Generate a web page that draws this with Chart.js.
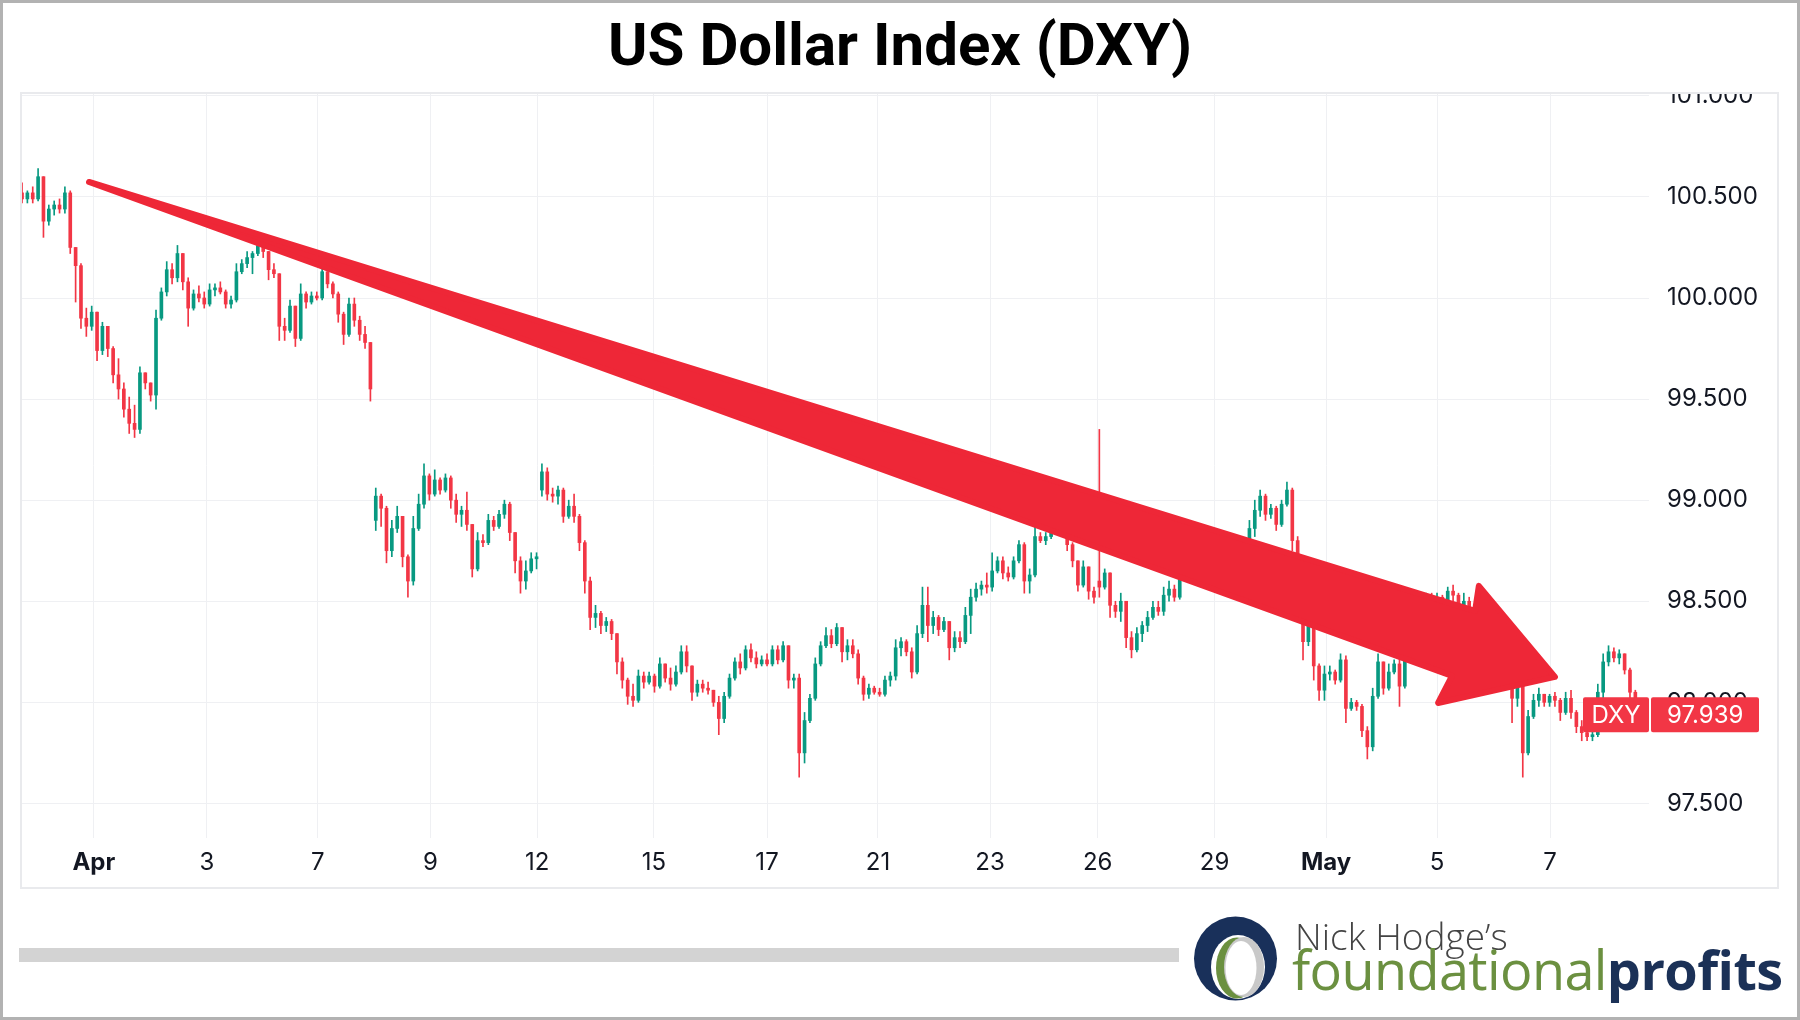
<!DOCTYPE html>
<html>
<head>
<meta charset="utf-8">
<title>US Dollar Index (DXY)</title>
<script src="https://cdn.jsdelivr.net/npm/chart.js@4.4.1/dist/chart.umd.min.js"></script>
<style>
  html, body { margin: 0; padding: 0; background: #fff; }
  #page { position: relative; width: 1800px; height: 1020px; overflow: hidden; background: #fff; }
  #chart { position: absolute; left: 0; top: 0; }
  #title { position: absolute; left: 0; top: 15px; width: 1800px; text-align: center;
           font: 700 60px Roboto, sans-serif; line-height: 60px; color: #000; }
  #scroll { position: absolute; left: 19px; top: 948px; width: 1160px; height: 14px; background: #d3d3d3; }
  #logo-icon { position: absolute; left: 1190px; top: 912px; }
  #logo-top { position: absolute; left: 1295px; top: 917px; font: 300 37px "Open Sans", sans-serif;
              line-height: 37px; color: #444; white-space: nowrap; }
  #logo-main { position: absolute; left: 1292px; top: 942px; font: 400 54px "Open Sans", sans-serif;
               line-height: 54px; color: #6b9040; white-space: nowrap; letter-spacing: -0.6px; }
  #logo-main b { font-weight: 700; color: #1b3157; }
  #border { position: absolute; left: 0; top: 0; width: 1800px; height: 1020px; box-sizing: border-box;
            border: 3px solid #b2b2b2; pointer-events: none; }
</style>
</head>
<body>
<div id="page">
  <canvas id="chart" width="1800" height="1020"></canvas>
  <div id="title">US Dollar Index (DXY)</div>
  <div id="scroll"></div>
  <svg id="logo-icon" width="92" height="92" viewBox="1190 912 92 92">
    <ellipse cx="1235.5" cy="958.5" rx="41.5" ry="42" fill="#19305a"/>
    <ellipse cx="1238" cy="967" rx="27" ry="32" fill="#fff"/>
    <ellipse cx="1237" cy="968" rx="21" ry="30.5" fill="#6b9040"/>
    <ellipse cx="1244" cy="967" rx="20" ry="30" fill="#c9c9c9"/>
    <ellipse cx="1241" cy="968" rx="15.5" ry="27" fill="#fff"/>
  </svg>
  <div id="logo-top">Nick Hodge’s</div>
  <div id="logo-main">foundational<b>profits</b></div>
  <div id="border"></div>
</div>

<script>
// x-axis labels and where they sit (in candle index units)
const tickLabels = ["Apr", "3", "7", "9", "12", "15", "17", "21", "23", "26", "29", "May", "5", "7"];
const tickAt = [13.4, 34.5, 55.2, 76.2, 96.1, 117.9, 139.0, 159.7, 180.6, 200.7, 222.5, 243.3, 264.0, 285.1];

// candles
const opens = [
  100.52,100.49,100.52,100.49,100.60,100.38,100.44,100.46,100.44,100.52,
  100.25,100.16,99.90,99.86,99.93,99.74,99.86,99.75,99.62,99.55,
  99.45,99.38,99.35,99.63,99.58,99.52,99.90,100.03,100.14,100.10,
  100.22,100.08,99.95,100.02,100.00,99.97,100.04,100.05,100.03,99.97,
  99.99,100.13,100.17,100.20,100.22,100.26,100.23,100.14,100.12,99.86,
  99.84,99.96,99.80,100.02,99.98,100.01,100.00,100.13,100.07,100.02,
  99.92,99.82,99.97,99.89,99.82,99.78,98.90,99.02,98.96,98.75,
  98.86,98.92,98.72,98.60,98.86,98.98,99.12,99.03,99.10,99.05,
  99.11,99.00,98.93,98.95,98.88,98.66,98.80,98.79,98.90,98.87,
  98.93,98.98,98.84,98.70,98.60,98.65,98.71,99.05,99.14,99.03,
  99.02,99.05,98.92,98.97,98.92,98.79,98.60,98.42,98.44,98.38,
  98.40,98.34,98.20,98.11,98.03,98.01,98.13,98.10,98.13,98.08,
  98.19,98.12,98.09,98.15,98.25,98.18,98.05,98.09,98.07,98.06,
  98.00,97.92,98.03,98.12,98.20,98.17,98.26,98.22,98.19,98.21,
  98.19,98.26,98.21,98.28,98.11,98.12,97.75,97.91,98.02,98.19,
  98.28,98.33,98.29,98.37,98.25,98.28,98.24,98.12,98.04,98.07,
  98.05,98.04,98.11,98.13,98.27,98.30,98.25,98.15,98.34,98.48,
  98.38,98.42,98.36,98.40,98.27,98.32,98.30,98.43,98.52,98.56,
  98.58,98.57,98.65,98.70,98.64,98.62,98.70,98.78,98.60,98.63,
  98.82,98.80,98.82,98.87,98.89,98.86,98.78,98.70,98.58,98.67,
  98.55,98.60,98.57,98.64,98.48,98.45,98.50,98.32,98.26,98.34,
  98.38,98.42,98.47,98.45,98.53,98.56,98.52,98.70,98.74,98.84,
  98.72,98.64,98.66,98.60,98.62,98.65,98.73,98.68,98.74,98.70,
  98.86,98.95,99.02,98.93,98.96,98.88,98.98,99.05,98.80,98.62,
  98.30,98.47,98.18,98.06,98.14,98.15,98.11,98.21,97.97,98.00,
  97.98,97.86,97.78,98.03,98.20,98.07,98.15,98.19,98.08,98.28,
  98.42,98.50,98.47,98.52,98.49,98.52,98.50,98.55,98.53,98.46,
  98.50,98.47,98.38,98.42,98.47,98.48,98.42,98.30,98.25,98.02,
  98.10,97.75,97.93,98.01,98.04,98.00,98.03,98.01,97.95,98.02,
  97.95,97.88,97.85,97.83,97.84,98.05,98.20,98.25,98.22,98.24,
  98.16,98.05
];
const highs = [
  100.57,100.53,100.55,100.64,100.60,100.46,100.48,100.49,100.55,100.53,
  100.25,100.17,99.95,99.96,99.93,99.88,99.86,99.76,99.70,99.58,
  99.51,99.47,99.66,99.63,99.58,99.94,100.05,100.18,100.17,100.26,
  100.22,100.10,100.04,100.06,100.03,100.07,100.07,100.08,100.04,100.01,
  100.17,100.19,100.23,100.23,100.29,100.28,100.23,100.17,100.12,99.90,
  99.99,99.96,100.07,100.03,100.03,100.03,100.15,100.13,100.08,100.03,
  99.93,100.00,100.00,99.91,99.86,99.78,99.06,99.03,98.97,98.90,
  98.97,98.92,98.73,98.92,99.03,99.18,99.13,99.15,99.11,99.13,
  99.12,99.03,98.97,99.04,98.88,98.84,98.83,98.93,98.92,98.95,
  99.00,98.99,98.84,98.72,98.70,98.74,98.74,99.18,99.16,99.06,
  99.07,99.06,99.00,99.03,98.93,98.80,98.62,98.48,98.45,98.42,
  98.41,98.34,98.22,98.12,98.09,98.16,98.15,98.15,98.14,98.22,
  98.19,98.17,98.18,98.28,98.28,98.18,98.11,98.11,98.10,98.06,
  98.03,98.05,98.14,98.22,98.24,98.28,98.29,98.25,98.23,98.24,
  98.28,98.28,98.30,98.28,98.14,98.14,97.95,98.04,98.22,98.30,
  98.37,98.36,98.39,98.37,98.31,98.31,98.26,98.13,98.09,98.08,
  98.07,98.13,98.15,98.31,98.32,98.31,98.27,98.38,98.57,98.57,
  98.45,98.43,98.42,98.40,98.35,98.35,98.47,98.56,98.59,98.60,
  98.64,98.74,98.72,98.72,98.67,98.72,98.80,98.79,98.66,98.87,
  98.84,98.84,98.90,98.91,98.89,98.86,98.79,98.70,98.70,98.67,
  98.57,99.35,98.66,98.64,98.50,98.54,98.50,98.35,98.37,98.40,
  98.45,98.50,98.50,98.57,98.60,98.58,98.72,98.76,98.87,98.84,
  98.72,98.68,98.68,98.64,98.67,98.76,98.76,98.76,98.77,98.90,
  99.00,99.05,99.03,98.98,98.97,99.00,99.09,99.06,98.82,98.63,
  98.52,98.48,98.19,98.18,98.18,98.16,98.24,98.23,98.02,98.01,
  97.99,97.88,98.07,98.24,98.20,98.19,98.21,98.27,98.31,98.47,
  98.54,98.54,98.54,98.54,98.54,98.53,98.57,98.58,98.54,98.54,
  98.52,98.47,98.44,98.50,98.50,98.49,98.43,98.33,98.26,98.14,
  98.10,97.96,98.04,98.07,98.04,98.04,98.05,98.02,98.05,98.06,
  97.96,97.91,97.89,97.86,98.09,98.24,98.28,98.27,98.26,98.24,
  98.17,98.06
];
const lows = [
  100.47,100.47,100.47,100.48,100.30,100.36,100.41,100.42,100.42,100.22,
  99.98,99.85,99.81,99.84,99.69,99.72,99.71,99.58,99.50,99.41,
  99.33,99.31,99.33,99.55,99.49,99.45,99.89,100.01,100.07,100.08,
  100.04,99.86,99.94,99.98,99.95,99.96,100.01,100.02,99.95,99.95,
  99.98,100.12,100.15,100.12,100.21,100.20,100.09,100.10,99.79,99.79,
  99.83,99.76,99.79,99.95,99.97,99.99,99.99,100.05,100.00,99.88,
  99.77,99.81,99.86,99.79,99.75,99.49,98.85,98.87,98.69,98.72,
  98.84,98.67,98.52,98.58,98.85,98.96,99.00,99.02,99.03,99.04,
  98.96,98.89,98.87,98.85,98.62,98.65,98.77,98.78,98.85,98.86,
  98.91,98.80,98.64,98.54,98.56,98.64,98.66,99.02,99.00,98.99,
  98.98,98.89,98.91,98.89,98.75,98.54,98.36,98.37,98.34,98.35,
  98.31,98.14,98.07,97.99,97.98,98.00,98.07,98.09,98.05,98.07,
  98.10,98.06,98.08,98.14,98.15,98.01,98.03,98.05,98.04,97.98,
  97.84,97.90,98.02,98.11,98.14,98.16,98.20,98.17,98.18,98.18,
  98.18,98.19,98.20,98.07,98.07,97.63,97.70,97.90,98.01,98.18,
  98.27,98.27,98.28,98.20,98.21,98.22,98.09,98.01,98.02,98.04,
  98.03,98.03,98.08,98.11,98.23,98.23,98.12,98.14,98.32,98.30,
  98.34,98.33,98.35,98.21,98.25,98.27,98.29,98.34,98.50,98.53,
  98.54,98.55,98.64,98.61,98.60,98.61,98.69,98.54,98.54,98.62,
  98.79,98.78,98.81,98.84,98.84,98.75,98.67,98.55,98.57,98.51,
  98.49,98.52,98.56,98.42,98.42,98.40,98.27,98.22,98.25,98.30,
  98.35,98.41,98.43,98.43,98.50,98.50,98.51,98.69,98.73,98.67,
  98.60,98.61,98.57,98.57,98.60,98.64,98.64,98.67,98.67,98.69,
  98.82,98.92,98.90,98.91,98.85,98.87,98.97,98.75,98.60,98.21,
  98.28,98.11,98.01,98.01,98.11,98.09,98.10,97.90,97.96,97.96,
  97.83,97.72,97.76,98.02,98.04,98.06,98.14,97.98,98.07,98.24,
  98.40,98.44,98.44,98.47,98.46,98.47,98.47,98.50,98.42,98.43,
  98.45,98.34,98.34,98.41,98.46,98.38,98.24,98.20,97.90,97.98,
  97.63,97.74,97.92,97.98,97.98,97.98,97.98,97.91,97.94,97.92,
  97.85,97.81,97.81,97.81,97.83,98.02,98.18,98.20,98.19,98.14,
  98.02,97.93
];
const closes = [
  100.49,100.52,100.49,100.60,100.38,100.44,100.46,100.44,100.52,100.25,
  100.16,99.90,99.86,99.93,99.74,99.86,99.75,99.62,99.55,99.45,
  99.38,99.35,99.63,99.58,99.52,99.90,100.03,100.14,100.10,100.22,
  100.08,99.95,100.02,100.00,99.97,100.04,100.05,100.03,99.97,99.99,
  100.13,100.17,100.20,100.22,100.26,100.23,100.14,100.12,99.86,99.84,
  99.96,99.80,100.02,99.98,100.01,100.00,100.13,100.07,100.02,99.92,
  99.82,99.97,99.89,99.82,99.78,99.55,99.02,98.96,98.75,98.86,
  98.92,98.72,98.60,98.86,98.98,99.12,99.03,99.10,99.05,99.11,
  99.00,98.93,98.95,98.88,98.66,98.80,98.79,98.90,98.87,98.93,
  98.98,98.84,98.70,98.60,98.65,98.71,98.72,99.14,99.03,99.02,
  99.05,98.92,98.97,98.92,98.79,98.60,98.42,98.44,98.38,98.40,
  98.34,98.20,98.11,98.03,98.01,98.13,98.10,98.13,98.08,98.19,
  98.12,98.09,98.15,98.25,98.18,98.05,98.09,98.07,98.06,98.00,
  97.92,98.03,98.12,98.20,98.17,98.26,98.22,98.19,98.21,98.19,
  98.26,98.21,98.28,98.11,98.12,97.75,97.91,98.02,98.19,98.28,
  98.33,98.29,98.37,98.25,98.28,98.24,98.12,98.04,98.07,98.05,
  98.04,98.11,98.13,98.27,98.30,98.25,98.15,98.34,98.48,98.38,
  98.42,98.36,98.40,98.27,98.32,98.30,98.43,98.52,98.56,98.58,
  98.57,98.65,98.70,98.64,98.62,98.70,98.78,98.60,98.63,98.82,
  98.80,98.82,98.87,98.89,98.86,98.78,98.70,98.58,98.67,98.55,
  98.52,98.57,98.64,98.48,98.45,98.50,98.32,98.26,98.34,98.38,
  98.42,98.47,98.45,98.53,98.56,98.52,98.70,98.74,98.84,98.72,
  98.64,98.66,98.60,98.62,98.65,98.73,98.68,98.74,98.70,98.86,
  98.95,99.02,98.93,98.96,98.88,98.98,99.05,98.80,98.66,98.30,
  98.47,98.18,98.06,98.14,98.15,98.11,98.21,97.97,98.00,97.98,
  97.86,97.78,98.03,98.20,98.07,98.15,98.19,98.08,98.28,98.42,
  98.50,98.47,98.52,98.49,98.52,98.50,98.55,98.53,98.46,98.50,
  98.47,98.38,98.42,98.47,98.48,98.42,98.30,98.25,98.02,98.10,
  97.75,97.93,98.01,98.04,98.00,98.03,98.01,97.95,98.02,97.95,
  97.88,97.85,97.83,97.84,98.05,98.20,98.25,98.22,98.24,98.16,
  98.05,97.939
];

const UP = "#089981";
const DOWN = "#f23645";
const candleColors = closes.map((c, i) => (c >= opens[i] ? UP : DOWN));

// the big red trend arrow, as (candle index, price) corners
const arrowPath = [
  [12.5, 100.574], [271.1, 98.452], [271.8, 98.576], [286.0, 98.126],
  [264.2, 97.997], [266.8, 98.131]
];

Chart.defaults.font.family = "Inter, Roboto, sans-serif";

const arrowPlugin = {
  id: "arrow",
  afterDatasetsDraw(chart) {
    const { ctx, scales } = chart;
    ctx.save();
    ctx.beginPath();
    arrowPath.forEach(([i, v], k) => {
      const px = scales.x.getPixelForValue(i);
      const py = scales.y.getPixelForValue(v);
      if (k === 0) ctx.moveTo(px, py);
      else ctx.lineTo(px, py);
    });
    ctx.closePath();
    ctx.fillStyle = "#ee2737";
    ctx.strokeStyle = "#ee2737";
    ctx.lineWidth = 6;
    ctx.lineJoin = "round";
    ctx.fill();
    ctx.stroke();
    ctx.restore();
  },
};

const framePlugin = {
  id: "frame",
  beforeDraw(chart) {
    const ctx = chart.ctx;
    ctx.save();
    ctx.fillStyle = "#fff";
    ctx.fillRect(0, 0, chart.width, chart.height);
    ctx.restore();
  },
  afterDraw(chart) {
    const { ctx, chartArea, scales } = chart;
    const right = scales.y.right;
    const bottom = scales.x.bottom;
    ctx.save();

    // the top price label is cut by the pane edge
    ctx.fillStyle = "#fff";
    ctx.fillRect(chartArea.right + 1, 60, right - chartArea.right - 2, chartArea.top - 60);

    ctx.strokeStyle = "#e9eaed";
    ctx.lineWidth = 2;
    ctx.strokeRect(chartArea.left, chartArea.top, right - chartArea.left, bottom - chartArea.top);

    // last price tag
    const last = closes[closes.length - 1];
    const py = scales.y.getPixelForValue(last);
    ctx.fillStyle = "#f23645";
    ctx.beginPath();
    ctx.roundRect(chartArea.right - 66, py - 17.5, 66, 35, 2);
    ctx.roundRect(chartArea.right + 2, py - 17.5, 108, 35, 2);
    ctx.fill();
    ctx.fillStyle = "#fff";
    ctx.font = "24px Inter, Roboto, sans-serif";
    ctx.textBaseline = "middle";
    ctx.textAlign = "center";
    ctx.fillText("DXY", chartArea.right - 33, py + 1);
    ctx.textAlign = "left";
    ctx.fillText(last.toFixed(3), chartArea.right + 18, py + 1);
    ctx.restore();
  },
};

new Chart(document.getElementById("chart"), {
  type: "bar",
  data: {
    datasets: [
      {
        label: "body",
        data: opens.map((o, i) => ({ x: i, y: [Math.min(o, closes[i]), Math.max(o, closes[i])] })),
        backgroundColor: candleColors,
        barThickness: 3,
        minBarLength: 1,
        grouped: false,
        order: 0,
      },
      {
        label: "wick",
        data: lows.map((l, i) => ({ x: i, y: [l, highs[i]] })),
        backgroundColor: candleColors,
        barThickness: 1,
        grouped: false,
        order: 1,
      },
    ],
  },
  options: {
    responsive: false,
    animation: false,
    devicePixelRatio: 1,
    layout: { padding: { left: 21, top: 93, right: 22, bottom: 132 } },
    plugins: { legend: { display: false }, tooltip: { enabled: false } },
    scales: {
      x: {
        type: "linear",
        min: -0.19,
        max: 303.55,
        offset: false,
        border: { display: false },
        grid: { color: "#eff0f3", drawTicks: false, offset: false },
        afterBuildTicks: (s) => {
          s.ticks = tickAt.map((v) => ({ value: v }));
        },
        afterFit: (s) => {
          s.height = 50;
        },
        ticks: {
          autoSkip: false,
          maxRotation: 0,
          padding: 10,
          color: "#131722",
          font: (c) => ({
            size: 24,
            weight: isNaN(Number(tickLabels[c.index])) ? "700" : "400",
          }),
          callback: (v, i) => tickLabels[i],
        },
      },
      y: {
        type: "linear",
        position: "right",
        min: 97.329,
        max: 101.014,
        border: { display: false },
        grid: { color: "#eff0f3", drawTicks: false },
        afterFit: (s) => {
          s.width = 129;
        },
        ticks: {
          stepSize: 0.5,
          includeBounds: false,
          padding: 18,
          color: "#131722",
          font: { size: 24 },
          callback: (v) => v.toFixed(3),
        },
      },
    },
  },
  plugins: [framePlugin, arrowPlugin],
});
</script>
</body>
</html>
